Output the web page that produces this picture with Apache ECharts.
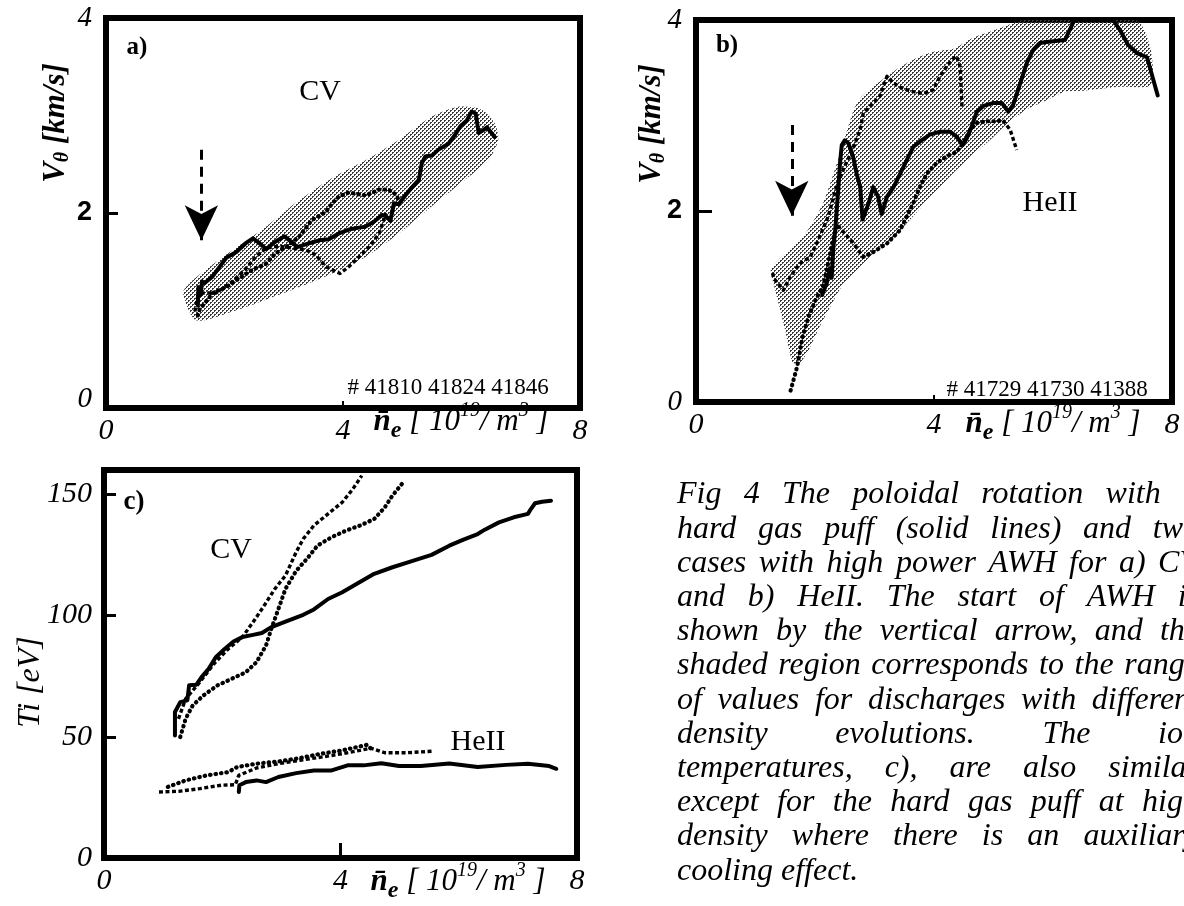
<!DOCTYPE html>
<html><head><meta charset="utf-8">
<script src="https://cdn.jsdelivr.net/npm/echarts@6/dist/echarts.min.js"></script>
<style>html,body{margin:0;padding:0;background:#fff;}#c{width:1184px;height:906px;}</style>
</head><body><div id="c"></div>
<script>
// ---------- tick labels ----------
const X_LABELS = [0, 4, 8];
const X_TICKS = [4];
const Y_LABELS_AB = [0, 2, 4];
const Y_TICKS_AB = [2];
const Y_LABELS_C = [0, 50, 100, 150];
const Y_TICKS_C = [50, 100, 150];

// ---------- panel a (CV) ----------
const A_SOLID = [[1.55,1.05],[1.56,1.24],[1.60,1.16],[1.62,1.30],[1.66,1.28],[1.80,1.35],[1.92,1.45],[2.03,1.54],[2.20,1.60],[2.36,1.69],[2.48,1.74],[2.59,1.69],[2.70,1.63],[2.87,1.71],[3.01,1.76],[3.12,1.71],[3.23,1.65],[3.43,1.69],[3.60,1.72],[3.76,1.73],[3.93,1.79],[4.10,1.83],[4.27,1.85],[4.38,1.86],[4.52,1.91],[4.66,1.98],[4.72,1.97],[4.80,1.92],[4.86,2.10],[4.94,2.09],[5.05,2.18],[5.16,2.26],[5.28,2.34],[5.33,2.51],[5.39,2.58],[5.50,2.59],[5.61,2.65],[5.78,2.71],[5.89,2.80],[5.98,2.89],[6.09,2.95],[6.17,3.04],[6.24,3.02],[6.29,2.82],[6.37,2.85],[6.43,2.88],[6.56,2.78]];
const A_DOTTED = [[1.55,0.95],[1.58,1.01],[1.70,1.10],[1.80,1.18],[2.03,1.24],[2.25,1.33],[2.48,1.42],[2.70,1.48],[2.87,1.59],[3.04,1.65],[3.26,1.76],[3.48,1.93],[3.71,2.01],[3.82,2.10],[3.93,2.17],[4.10,2.21],[4.38,2.18],[4.61,2.24],[4.77,2.24],[4.91,2.18],[4.94,2.12]];
const A_DASHED = [[1.50,0.99],[1.55,1.15],[1.64,1.18],[1.86,1.18],[2.14,1.30],[2.36,1.43],[2.53,1.55],[2.70,1.64],[2.92,1.66],[3.15,1.64],[3.37,1.62],[3.54,1.57],[3.71,1.45],[3.88,1.40],[3.95,1.38],[4.10,1.45],[4.27,1.55],[4.44,1.65],[4.61,1.79],[4.69,1.93],[4.72,2.00]];
const A_SHADE = [[1.30,1.18],[1.52,0.90],[2.14,0.99],[2.70,1.11],[3.26,1.24],[3.82,1.38],[4.38,1.55],[4.94,1.79],[5.50,2.07],[6.06,2.34],[6.45,2.54],[6.62,2.75],[6.56,2.92],[6.34,3.06],[5.95,3.09],[5.50,2.99],[4.94,2.75],[4.38,2.54],[3.82,2.36],[3.26,2.13],[2.70,1.86],[2.14,1.62],[1.69,1.42],[1.41,1.28]];
const A_ARROW = [[1.61,2.65],[1.61,1.72]];

// ---------- panel b (HeII) ----------
const B_SOLID = [[2.12,1.12],[2.20,1.25],[2.25,1.40],[2.28,1.30],[2.31,1.63],[2.34,1.80],[2.39,2.22],[2.42,2.50],[2.45,2.69],[2.50,2.74],[2.56,2.71],[2.64,2.57],[2.70,2.39],[2.76,2.25],[2.80,1.91],[2.90,2.08],[2.98,2.25],[3.06,2.15],[3.12,1.97],[3.21,2.15],[3.32,2.25],[3.43,2.39],[3.54,2.53],[3.65,2.67],[3.79,2.74],[3.93,2.80],[4.10,2.83],[4.27,2.83],[4.38,2.78],[4.48,2.69],[4.55,2.76],[4.63,2.88],[4.72,3.04],[4.83,3.10],[4.99,3.13],[5.14,3.13],[5.25,3.04],[5.33,3.11],[5.45,3.34],[5.56,3.55],[5.67,3.69],[5.78,3.76],[5.89,3.77],[6.20,3.79],[6.36,4.00],[7.01,4.00],[7.14,3.88],[7.26,3.74],[7.42,3.65],[7.58,3.61],[7.76,3.21]];
const B_DASHED_UP = [[1.29,1.35],[1.30,1.30],[1.47,1.17],[1.58,1.31],[1.75,1.45],[1.92,1.52],[2.08,1.73],[2.22,1.94],[2.36,2.25],[2.50,2.47],[2.65,2.67],[2.76,2.85],[2.81,3.02],[2.92,3.09],[3.09,3.20],[3.21,3.41],[3.32,3.34],[3.48,3.28],[3.65,3.25],[3.82,3.23],[3.99,3.27],[4.10,3.41],[4.21,3.51],[4.33,3.60],[4.38,3.62],[4.44,3.51],[4.47,3.09]];
const B_DOTTED_1 = [[1.59,0.12],[1.70,0.37],[1.79,0.68],[1.89,0.89],[2.01,1.07],[2.14,1.22],[2.22,1.45],[2.30,1.70],[2.38,1.85]];
const B_DASHED_LOW_1 = [[2.38,1.85],[2.65,1.66],[2.81,1.52]];
const B_DOTTED_2 = [[2.81,1.52],[2.98,1.57],[3.21,1.66],[3.43,1.80],[3.54,1.94],[3.65,2.08],[3.76,2.25],[3.88,2.39],[4.04,2.50],[4.21,2.57],[4.38,2.62],[4.49,2.71],[4.61,2.85],[4.72,2.92],[4.88,2.94],[5.05,2.94],[5.16,2.95]];
const B_DASHED_LOW_2 = [[5.16,2.95],[5.28,2.85],[5.39,2.64]];
const B_SHADE = [[1.26,1.39],[1.39,1.49],[1.64,1.63],[1.89,1.81],[2.14,2.09],[2.39,2.54],[2.64,3.04],[2.76,3.18],[3.08,3.35],[3.39,3.49],[3.70,3.60],[4.01,3.67],[4.33,3.70],[4.64,3.81],[4.95,3.88],[5.26,3.95],[5.50,4.00],[7.39,4.00],[7.64,3.70],[7.64,3.32],[7.14,3.30],[6.51,3.26],[6.20,3.25],[5.89,3.16],[5.58,3.07],[5.26,2.93],[4.95,2.75],[4.64,2.58],[4.33,2.40],[4.01,2.19],[3.70,1.98],[3.39,1.77],[3.08,1.60],[2.76,1.42],[2.45,1.21],[2.26,1.00],[2.08,0.79],[1.89,0.54],[1.73,0.40],[1.62,0.42],[1.50,0.75],[1.38,1.05],[1.28,1.30]];
const B_ARROW = [[1.61,2.90],[1.61,1.95]];

// ---------- panel c (Ti) ----------
const C_CV_SOLID = [[1.20,50.5],[1.20,60.2],[1.26,62.9],[1.29,64.3],[1.41,65.0],[1.44,71.2],[1.56,71.4],[1.65,74.6],[1.77,78.0],[1.89,82.8],[2.04,86.2],[2.19,89.3],[2.34,91.1],[2.52,92.0],[2.67,92.8],[2.83,95.2],[3.07,97.5],[3.37,100.3],[3.55,102.5],[3.79,106.8],[4.03,109.6],[4.27,113.0],[4.57,117.2],[4.88,119.9],[5.18,122.2],[5.54,125.0],[5.84,128.8],[6.08,131.3],[6.32,133.6],[6.44,135.4],[6.68,138.4],[6.93,140.5],[7.17,141.9],[7.22,143.9],[7.29,146.3],[7.41,146.9],[7.56,147.3]];
const C_CV_DASHED = [[1.26,57.4],[1.38,65.6],[1.62,72.5],[1.86,80.1],[2.10,86.2],[2.34,91.1],[2.52,97.2],[2.71,104.1],[2.89,111.0],[3.07,116.5],[3.25,126.1],[3.37,131.6],[3.55,137.1],[3.79,141.9],[4.03,146.7],[4.21,152.2],[4.36,157.7]];
const C_CV_DOTTED = [[1.29,49.9],[1.38,57.4],[1.50,62.9],[1.68,67.0],[1.92,71.2],[2.16,73.9],[2.40,76.6],[2.58,80.8],[2.74,87.6],[2.83,94.5],[2.95,102.7],[3.07,111.0],[3.25,118.4],[3.43,123.3],[3.61,128.8],[3.85,132.3],[4.09,135.0],[4.33,137.1],[4.57,139.8],[4.75,144.6],[4.88,149.5],[5.06,154.9]];
const C_HE_SOLID = [[2.28,27.2],[2.29,30.0],[2.40,31.3],[2.58,32.0],[2.74,31.3],[2.95,33.4],[3.25,35.0],[3.55,36.1],[3.85,36.1],[4.12,38.2],[4.39,38.2],[4.69,39.1],[4.99,37.9],[5.36,37.9],[5.84,39.0],[6.32,37.5],[6.80,38.4],[7.17,38.9],[7.53,37.9],[7.65,36.8]];
const C_HE_DOTTED = [[1.08,29.3],[1.38,32.0],[1.74,34.1],[2.10,35.4],[2.25,37.5],[2.58,38.9],[2.95,39.8],[3.31,41.2],[3.67,43.0],[4.03,44.4],[4.27,45.7],[4.45,46.7],[4.54,44.4]];
const C_HE_DASHED = [[0.93,27.2],[1.26,27.5],[1.62,28.6],[1.98,30.0],[2.22,30.2],[2.28,34.1],[2.58,37.1],[2.95,38.9],[3.31,40.3],[3.67,41.6],[4.03,43.0],[4.33,44.4],[4.51,45.3],[4.75,43.4],[5.12,43.4],[5.54,44.0]];

// ---------- caption ----------
const CAPTION = [
 'Fig 4 The poloidal rotation with a',
 'hard gas puff (solid lines) and two',
 'cases with high power AWH for a) CV',
 'and b) HeII. The start of AWH is',
 'shown by the vertical arrow, and the',
 'shaded region corresponds to the range',
 'of values for discharges with different',
 'density evolutions. The ion',
 'temperatures, c), are also similar',
 'except for the hard gas puff at high',
 'density where there is an auxiliary',
 'cooling effect.'
];

const SERIF = '"Liberation Serif", "Times New Roman", serif';

// stipple pattern for shaded regions
const pc = document.createElement('canvas');
pc.width = 4; pc.height = 4;
const pg = pc.getContext('2d');
pg.fillStyle = '#3a3a3a';
pg.fillRect(0,0,2,1); pg.fillRect(0,1,1,1);
pg.fillRect(2,2,2,1); pg.fillRect(2,3,1,1);
const SHADE_FILL = {image: pc, repeat: 'repeat'};

function shade(idx, pts) {
  return {
    type: 'custom', xAxisIndex: idx, yAxisIndex: idx, data: pts, z: 1, silent: true, clip: true,
    renderItem: function (params, api) {
      if (params.dataIndex !== 0) return null;
      const points = pts.map(p => api.coord(p));
      return {type: 'polygon', shape: {points: points, smooth: 0.25}, style: {fill: SHADE_FILL, stroke: null}};
    }
  };
}
function line(idx, data, kind, extra) {
  const ls = {color: '#000', width: 4, type: 'solid', cap: 'round', join: 'round'};
  if (kind === 'dash') { ls.width = 3.4; ls.type = [4, 2.5]; ls.cap = 'butt'; }
  if (kind === 'dot') { ls.width = 4.2; ls.type = [0.5, 5]; ls.cap = 'round'; }
  return Object.assign({
    type: 'line', xAxisIndex: idx, yAxisIndex: idx, data: data, symbol: 'none', showSymbol: false,
    lineStyle: ls, silent: true, z: 3, clip: true
  }, extra || {});
}
function arrow(pts) {
  return {
    silent: true, symbol: ['none', 'arrow'], symbolSize: [25, 35], label: {show: false},
    lineStyle: {color: '#000', width: 3, type: [10, 7]}, emphasis: {disabled: true},
    data: [[{coord: pts[0]}, {coord: pts[1]}]]
  };
}

const labelFont = {fontFamily: SERIF, fontStyle: 'italic', fontSize: 30, color: '#000'};
function xAxis(idx) {
  return {
    gridIndex: idx, type: 'value', min: 0, max: 8,
    axisLine: {show: false}, splitLine: {show: false},
    axisTick: {show: true, inside: true, customValues: X_TICKS, length: idx === 2 ? 15 : 7, lineStyle: {color: '#000', width: idx === 2 ? 3 : 2}},
    axisLabel: Object.assign({customValues: X_LABELS, margin: 8}, labelFont)
  };
}
function yAxisAB(idx) {
  return {
    gridIndex: idx, type: 'value', min: 0, max: 4,
    axisLine: {show: false}, splitLine: {show: false},
    axisTick: {show: true, inside: true, customValues: Y_TICKS_AB, length: idx === 1 ? 16 : 12, lineStyle: {color: '#000', width: 3}},
    axisLabel: {
      customValues: Y_LABELS_AB, margin: 14,
      formatter: v => v === 2 ? '{u|2}' : (v === 0 && idx === 0 ? '{z|0}' : '{i|' + v + '}'),
      rich: {
        u: {fontFamily: '"Liberation Sans", Arial, sans-serif', fontWeight: 'bold', fontSize: 27, color: '#000'},
        i: {fontFamily: SERIF, fontStyle: 'italic', fontSize: 29, color: '#000'},
        z: {fontFamily: SERIF, fontStyle: 'italic', fontSize: 29, color: '#000', padding: [0, 0, 18, 0]}
      }
    }
  };
}
const yAxisC = {
  gridIndex: 2, type: 'value', min: 0, max: 160,
  axisLine: {show: false}, splitLine: {show: false},
  axisTick: {show: true, inside: true, customValues: Y_TICKS_C, length: 12, lineStyle: {color: '#000', width: 3}},
  axisLabel: Object.assign({customValues: Y_LABELS_C, margin: 12}, labelFont)
};

const gridBase = {show: true, borderColor: '#000', borderWidth: 6, backgroundColor: 'transparent', containLabel: false, outerBoundsMode: 'none'};

// caption layout (justified lines, compressed when too long)
const mctx = document.createElement('canvas').getContext('2d');
const CAP_FONT_SIZE = 32;
const CAP_FONT = 'italic ' + CAP_FONT_SIZE + 'px "Liberation Serif"';
mctx.font = CAP_FONT;
const CAP_L = 677, CAP_R = 1199, CAP_Y0 = 495, CAP_DY = 34.2;
const captionEls = [];
CAPTION.forEach((ln, i) => {
  const words = ln.split(' ');
  const widths = words.map(w => mctx.measureText(w).width);
  const total = widths.reduce((a, b) => a + b, 0);
  const sp = mctx.measureText(' ').width;
  const last = i === CAPTION.length - 1;
  const avail = CAP_R - CAP_L;
  let gap = sp, sx = 1;
  if (!last && words.length > 1) {
    const natural = total + sp * (words.length - 1);
    if (natural > avail) { sx = avail / natural; gap = sp * sx; }
    else gap = (avail - total) / (words.length - 1);
  }
  let x = CAP_L;
  words.forEach((w, k) => {
    captionEls.push({type: 'text', x: x, y: CAP_Y0 + i * CAP_DY, scaleX: sx, silent: true,
      style: {text: w, font: CAP_FONT, fill: '#000', align: 'left', verticalAlign: 'middle', textAlign: 'left', textVerticalAlign: 'middle'}});
    x += widths[k] * sx + gap;
  });
});

function txt(x, y, text, font, extra) {
  return Object.assign({type: 'text', x: x, y: y, silent: true,
    style: {text: text, font: font, fill: '#000', align: 'center', verticalAlign: 'middle', textAlign: 'center', textVerticalAlign: 'middle'}}, extra || {});
}
function richTxt(x, y, text, rich, extra) {
  return Object.assign({type: 'text', x: x, y: y, silent: true,
    style: {text: text, rich: rich, fill: '#000', align: 'center', verticalAlign: 'middle', textAlign: 'center', textVerticalAlign: 'middle'}}, extra || {});
}
const vRich = {
  v: {fontFamily: SERIF, fontStyle: 'italic', fontWeight: 'bold', fontSize: 31, color: '#000', lineHeight: 34},
  s: {fontFamily: SERIF, fontStyle: 'italic', fontWeight: 'bold', fontSize: 20, color: '#000', verticalAlign: 'bottom', lineHeight: 28},
  t: {fontFamily: SERIF, fontStyle: 'italic', fontWeight: 'bold', fontSize: 31, color: '#000', lineHeight: 34}
};
const nRich = {
  n: {fontFamily: SERIF, fontStyle: 'italic', fontWeight: 'bold', fontSize: 31, color: '#000', lineHeight: 34},
  e: {fontFamily: SERIF, fontStyle: 'italic', fontWeight: 'bold', fontSize: 24, color: '#000', lineHeight: 30, verticalAlign: 'bottom'},
  t: {fontFamily: SERIF, fontStyle: 'italic', fontSize: 31, color: '#000', lineHeight: 34},
  u: {fontFamily: SERIF, fontStyle: 'italic', fontSize: 20, color: '#000', lineHeight: 42, verticalAlign: 'top'}
};
const NE_TEXT = '{n|n\u0304}{e|e}{t| [ 10}{u|19}{t|/ m}{u|3}{t| ]}';

const graphics = [
  // panel a
  txt(137, 48, 'a)', 'bold 25px ' + SERIF),
  txt(320, 92, 'CV', '30px ' + SERIF),
  txt(448, 388, '# 41810 41824 41846', '23px ' + SERIF),
  richTxt(56, 123, '{v|V}{s|\u03b8}{t| [km/s]}', vRich, {rotation: Math.PI / 2}),
  richTxt(461, 422, NE_TEXT, nRich),
  // panel b
  txt(727, 46, 'b)', 'bold 25px ' + SERIF),
  txt(1050, 203, 'HeII', '30px ' + SERIF),
  txt(1047, 390, '# 41729 41730 41388', '23px ' + SERIF),
  richTxt(652, 124, '{v|V}{s|\u03b8}{t| [km/s]}', vRich, {rotation: Math.PI / 2}),
  richTxt(1053, 424, NE_TEXT, nRich),
  // panel c
  txt(134, 502, 'c)', 'bold 27px ' + SERIF),
  txt(231, 550, 'CV', '30px ' + SERIF),
  txt(478, 742, 'HeII', '30px ' + SERIF),
  txt(31, 682, 'Ti [eV]', 'italic 32px ' + SERIF, {rotation: Math.PI / 2}),
  richTxt(458, 882, NE_TEXT, nRich)
].concat(captionEls);

const chart = echarts.init(document.getElementById('c'), null, {renderer: 'canvas'});
chart.setOption({
  animation: false,
  backgroundColor: '#fff',
  grid: [
    Object.assign({left: 106, top: 18, width: 474, height: 390}, gridBase),
    Object.assign({left: 696, top: 20, width: 476, height: 382}, gridBase),
    Object.assign({left: 104, top: 470, width: 473, height: 388}, gridBase)
  ],
  xAxis: [xAxis(0), xAxis(1), xAxis(2)],
  yAxis: [yAxisAB(0), yAxisAB(1), yAxisC],
  series: [
    shade(0, A_SHADE),
    line(0, A_DASHED, 'dash'),
    line(0, A_DOTTED, 'dot'),
    line(0, A_SOLID, 'solid', {markLine: arrow(A_ARROW)}),
    shade(1, B_SHADE),
    line(1, B_DASHED_UP, 'dash'),
    line(1, B_DOTTED_1, 'dot'),
    line(1, B_DASHED_LOW_1, 'dash'),
    line(1, B_DOTTED_2, 'dot'),
    line(1, B_DASHED_LOW_2, 'dash'),
    line(1, B_SOLID, 'solid', {markLine: arrow(B_ARROW)}),
    line(2, C_CV_DASHED, 'dash'),
    line(2, C_CV_DOTTED, 'dot'),
    line(2, C_CV_SOLID, 'solid'),
    line(2, C_HE_DASHED, 'dash'),
    line(2, C_HE_DOTTED, 'dot'),
    line(2, C_HE_SOLID, 'solid')
  ],
  graphic: {elements: graphics}
});
</script>
</body></html>
